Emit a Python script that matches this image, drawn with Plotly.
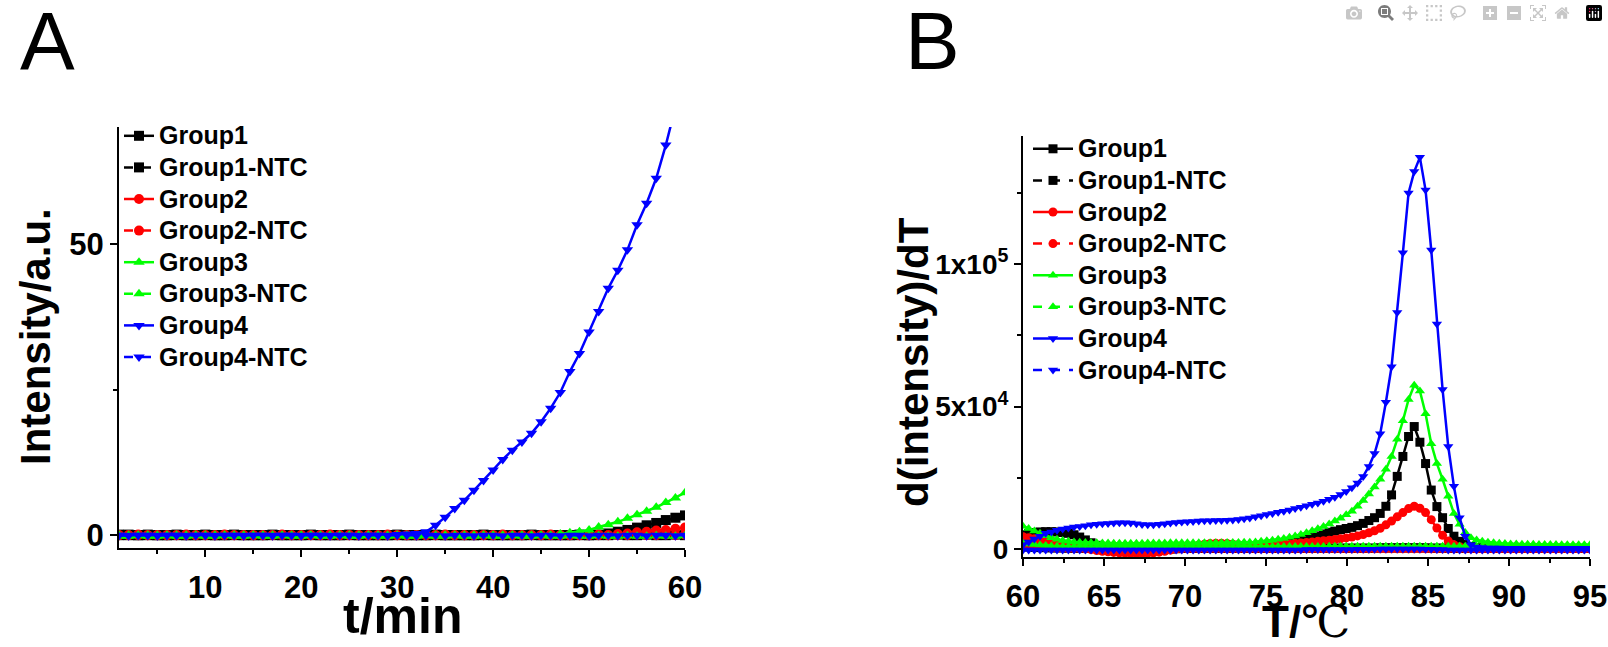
import numpy as np
import plotly.graph_objects as go

W, H = 1608, 647
FONT = 'Liberation Sans'

# ---- panel A: intensity vs time (t = 1..60 min) ----
t_min = list(range(1, 61))

g1_int = [0, 0, 0, 0, 0, 0, 0, 0, 0, 0,
          0, 0, 0, 0, 0, 0, 0, 0, 0, 0,
          0, 0, 0, 0, 0, 0, 0, 0, 0, 0,
          0, 0, 0, 0, 0, 0, 0, 0, 0, 0,
          0, 0, 0, 0, 0, 0, 0, 0, 0, 0,
          0.1, 0.3, 0.6, 0.9, 1.3, 1.7, 2.1, 2.6, 3.0, 3.4]
g1n_int = [0.1, 0.1, 0.0, 0.1, 0.0, 0.0, 0.1, 0.0, 0.0, 0.1,
           0.0, 0.0, 0.1, 0.0, 0.0, 0.0, 0.1, 0.0, 0.0, 0.0,
           0.1, 0.0, 0.0, 0.0, 0.1, 0.0, 0.0, 0.0, 0.0, 0.1,
           0.0, 0.0, 0.0, 0.1, 0.0, 0.0, 0.0, 0.0, 0.1, 0.0,
           0.0, 0.0, 0.0, 0.1, 0.0, 0.0, 0.0, 0.0, 0.1, 0.0,
           0.0, 0.0, 0.1, 0.0, 0.0, 0.1, 0.0, 0.0, 0.1, 0.0]
g2_int = [0, 0, 0, 0, 0, 0, 0, 0, 0, 0,
          0, 0, 0, 0, 0, 0, 0, 0, 0, 0,
          0, 0, 0, 0, 0, 0, 0, 0, 0, 0,
          0, 0, 0, 0, 0, 0, 0, 0, 0, 0,
          0, 0, 0, 0, 0, 0, 0, 0, 0, 0,
          0, 0, 0.2, 0.3, 0.5, 0.6, 0.8, 0.9, 1.1, 1.3]
g2n_int = [0.0, 0.0, 0.1, 0.0, 0.0, 0.0, 0.0, 0.1, 0.0, 0.0,
           0.0, 0.1, 0.0, 0.0, 0.0, 0.0, 0.0, 0.1, 0.0, 0.0,
           0.0, 0.0, 0.1, 0.0, 0.0, 0.0, 0.0, 0.0, 0.1, 0.0,
           0.0, 0.0, 0.0, 0.0, 0.1, 0.0, 0.0, 0.0, 0.0, 0.0,
           0.1, 0.0, 0.0, 0.0, 0.0, 0.1, 0.0, 0.0, 0.0, 0.0,
           0.1, 0.0, 0.0, 0.0, 0.1, 0.0, 0.0, 0.1, 0.0, 0.1]
g3_int = [0, 0, 0, 0, 0, 0, 0, 0, 0, 0,
          0, 0, 0, 0, 0, 0, 0, 0, 0, 0,
          0, 0, 0, 0, 0, 0, 0, 0, 0, 0,
          0, 0, 0, 0, 0, 0, 0, 0, 0, 0,
          0, 0, 0, 0, 0, 0, 0.2, 0.4, 0.6, 0.9,
          1.4, 1.8, 2.3, 2.9, 3.5, 4.1, 4.8, 5.6, 6.4, 7.3]
g3n_int = [-0.2, -0.2, -0.1, -0.2, -0.2, -0.1, -0.2, -0.2, -0.1, -0.2,
           -0.2, -0.1, -0.2, -0.2, -0.1, -0.2, -0.2, -0.1, -0.2, -0.2,
           -0.1, -0.2, -0.2, -0.1, -0.2, -0.2, -0.1, -0.2, -0.2, -0.1,
           -0.2, -0.2, -0.1, -0.2, -0.2, -0.1, -0.2, -0.2, -0.1, -0.2,
           -0.2, -0.1, -0.2, -0.2, -0.1, -0.2, -0.2, -0.1, -0.2, -0.2,
           -0.1, -0.2, -0.2, -0.1, -0.2, -0.2, -0.1, -0.2, -0.2, -0.1]
g4_int = [0, 0, 0, 0, 0, 0, 0, 0, 0, 0,
          0, 0, 0, 0, 0, 0, 0, 0, 0, 0,
          0, 0, 0, 0, 0, 0, 0, 0, 0, 0.1,
          0.2, 0.3, 0.6, 1.7, 3.1, 4.6, 6.0, 7.7, 9.4, 11.2,
          13.0, 14.6, 16.0, 17.5, 19.5, 21.8, 24.5, 28.1, 31.2, 34.9,
          38.4, 42.4, 45.5, 49.0, 53.3, 57.0, 61.3, 67.0, 73.5, 80.0]
g4n_int = [0.0, -0.1, 0.0, 0.0, -0.1, 0.0, 0.0, -0.1, 0.0, 0.0,
           -0.1, 0.0, 0.0, -0.1, 0.0, 0.0, -0.1, 0.0, 0.0, -0.1,
           0.0, 0.0, -0.1, 0.0, 0.0, -0.1, 0.0, 0.0, -0.1, 0.0,
           0.0, -0.1, 0.0, 0.0, -0.1, 0.0, 0.0, -0.1, 0.0, 0.0,
           -0.1, 0.0, 0.0, -0.1, 0.0, 0.0, -0.1, 0.0, 0.0, -0.1,
           0.0, 0.0, -0.1, 0.0, 0.0, -0.1, 0.0, 0.0, -0.1, 0.0]

# ---- panel B: d(intensity)/dT vs temperature, values in units of 1e3 ----
temp_c = np.round(np.linspace(60, 95, 101), 2)

g1_dt = [5.0, 5.5, 5.8, 6.0, 6.1, 6.1, 6.0, 5.8, 5.5, 5.0,
         4.2, 3.2, 2.2, 1.3, 0.6, 0.2, 0.0, -0.1, -0.2, -0.2,
         -0.3, -0.3, -0.3, -0.2, -0.2, -0.1, 0.0, 0.1, 0.2, 0.3,
         0.6, 0.9, 1.2, 1.4, 1.5, 1.5, 1.4, 1.3, 1.2, 1.1,
         1.1, 1.2, 1.3, 1.5, 1.7, 1.9, 2.0, 2.3, 2.6, 3.0,
         3.4, 4.0, 4.6, 5.3, 5.9, 6.3, 6.8, 7.2, 7.6, 8.2,
         9.0, 10.0, 11.0, 12.5, 15.0, 19.0, 25.5, 32.5, 39.5, 43.0,
         37.5, 30.0, 20.7, 14.9, 11.0, 7.2, 4.5, 2.7, 1.6, 0.9,
         0.5, 0.3, 0.3, 0.2, 0.2, 0.2, 0.2, 0.2, 0.2, 0.2,
         0.2, 0.2, 0.2, 0.2, 0.2, 0.2, 0.2, 0.2, 0.2, 0.2, 0.2]
g1n_dt = [0.8, 0.7, 0.6, 0.5, 0.5, 0.4, 0.4, 0.4, 0.3, 0.3,
          0.3, 0.3, 0.2, 0.2, 0.2, 0.2, 0.2, 0.2, 0.2, 0.2,
          0.2, 0.2, 0.2, 0.2, 0.2, 0.2, 0.2, 0.2, 0.2, 0.2,
          0.2, 0.2, 0.2, 0.2, 0.2, 0.2, 0.2, 0.2, 0.2, 0.2,
          0.2, 0.2, 0.2, 0.2, 0.2, 0.2, 0.3, 0.3, 0.3, 0.3,
          0.3, 0.3, 0.3, 0.3, 0.3, 0.3, 0.3, 0.3, 0.3, 0.3,
          0.3, 0.3, 0.3, 0.4, 0.4, 0.4, 0.4, 0.4, 0.4, 0.4,
          0.4, 0.4, 0.3, 0.3, 0.3, 0.3, 0.2, 0.2, 0.2, 0.2,
          0.2, 0.2, 0.2, 0.2, 0.2, 0.2, 0.2, 0.2, 0.2, 0.2,
          0.2, 0.2, 0.2, 0.2, 0.2, 0.2, 0.2, 0.2, 0.2, 0.2, 0.2]
g2_dt = [4.3, 4.0, 3.6, 3.2, 2.8, 2.5, 2.3, 2.0, 1.6, 1.1,
         0.6, 0.2, -0.2, -0.5, -0.8, -1.0, -1.2, -1.3, -1.4, -1.5,
         -1.5, -1.5, -1.4, -1.3, -1.1, -0.8, -0.4, 0.0, 0.4, 0.8,
         1.1, 1.4, 1.7, 1.9, 2.0, 2.0, 1.9, 1.7, 1.5, 1.3,
         1.2, 1.2, 1.3, 1.4, 1.5, 1.6, 1.7, 1.8, 2.0, 2.1,
         2.3, 2.5, 2.7, 2.9, 3.1, 3.3, 3.6, 3.9, 4.2, 4.6,
         5.1, 5.7, 6.4, 7.3, 8.5, 9.8, 11.3, 12.8, 14.2, 15.0,
         14.3, 12.8, 10.3, 7.4, 4.8, 2.8, 1.5, 0.8, 0.4, 0.2,
         0.1, 0.1, 0.1, 0.1, 0.1, 0.1, 0.1, 0.1, 0.1, 0.1,
         0.1, 0.1, 0.1, 0.1, 0.1, 0.1, 0.1, 0.1, 0.1, 0.1, 0.1]
g2n_dt = [1.0, 0.9, 0.8, 0.6, 0.5, 0.4, 0.3, 0.3, 0.2, 0.2,
          0.2, 0.1, 0.1, 0.1, 0.1, 0.1, 0.1, 0.1, 0.1, 0.1,
          0.1, 0.1, 0.1, 0.1, 0.1, 0.1, 0.1, 0.1, 0.1, 0.1,
          0.1, 0.1, 0.1, 0.1, 0.1, 0.1, 0.1, 0.1, 0.1, 0.1,
          0.1, 0.1, 0.1, 0.1, 0.1, 0.1, 0.1, 0.1, 0.1, 0.1,
          0.1, 0.1, 0.1, 0.1, 0.1, 0.1, 0.1, 0.1, 0.1, 0.1,
          0.1, 0.1, 0.1, 0.1, 0.1, 0.1, 0.1, 0.1, 0.1, 0.1,
          0.1, 0.1, 0.1, 0.1, 0.1, 0.1, 0.1, 0.1, 0.1, 0.1,
          0.1, 0.1, 0.1, 0.1, 0.1, 0.1, 0.1, 0.1, 0.1, 0.1,
          0.1, 0.1, 0.1, 0.1, 0.1, 0.1, 0.1, 0.1, 0.1, 0.1, 0.1]
g3_dt = [8.0, 7.2, 6.3, 5.5, 4.7, 4.0, 3.4, 3.0, 2.7, 2.5,
         2.4, 2.3, 2.2, 2.2, 2.1, 2.1, 2.0, 2.0, 2.0, 2.0,
         2.0, 2.0, 2.1, 2.1, 2.1, 2.1, 2.2, 2.2, 2.2, 2.2,
         2.2, 2.2, 2.2, 2.2, 2.2, 2.2, 2.3, 2.3, 2.3, 2.4,
         2.4, 2.5, 2.7, 2.9, 3.1, 3.4, 3.7, 4.1, 4.6, 5.1,
         5.7, 6.4, 7.1, 7.9, 8.8, 9.8, 10.8, 12.0, 13.3, 15.0,
         17.0, 19.3, 21.8, 24.5, 28.0, 32.5, 38.5, 45.0, 52.5, 57.5,
         55.5, 47.5, 37.0, 30.0, 24.5, 18.5, 12.5, 8.7, 5.8, 4.0,
         3.2, 2.7, 2.4, 2.2, 2.0, 1.9, 1.8, 1.8, 1.7, 1.7,
         1.7, 1.6, 1.6, 1.6, 1.6, 1.5, 1.5, 1.5, 1.5, 1.5, 1.5]
g3n_dt = [2.0, 1.8, 1.6, 1.4, 1.2, 1.1, 1.0, 1.0, 0.9, 0.9,
          0.9, 0.9, 0.9, 0.9, 0.9, 0.9, 0.9, 0.9, 0.9, 0.9,
          0.9, 0.9, 0.9, 0.9, 0.9, 0.9, 0.9, 0.9, 0.9, 0.9,
          0.9, 0.9, 0.9, 0.9, 0.9, 0.9, 0.9, 0.9, 0.9, 0.9,
          0.9, 0.9, 0.9, 0.9, 0.9, 0.9, 0.9, 0.9, 0.9, 0.9,
          0.9, 0.9, 0.9, 0.9, 1.0, 1.0, 1.0, 1.0, 1.0, 1.0,
          1.0, 1.0, 1.0, 1.0, 1.0, 1.0, 1.0, 1.0, 1.0, 1.0,
          1.0, 1.0, 1.0, 1.0, 1.0, 1.0, 1.0, 1.0, 1.0, 1.0,
          1.0, 1.0, 1.0, 1.0, 1.0, 1.0, 1.0, 1.0, 1.0, 1.0,
          1.0, 1.0, 1.0, 1.0, 1.0, 1.0, 1.0, 1.0, 1.0, 1.0, 1.0]
g4_dt = [1.5, 2.5, 3.5, 4.5, 5.5, 6.0, 6.6, 7.0, 7.4, 7.7,
         7.9, 8.2, 8.5, 8.7, 8.9, 9.0, 9.1, 9.2, 9.2, 9.1,
         8.9, 8.6, 8.5, 8.5, 8.7, 8.9, 9.1, 9.3, 9.5, 9.6,
         9.7, 9.8, 9.9, 9.9, 10.0, 10.0, 10.1, 10.2, 10.4, 10.6,
         10.9, 11.3, 11.7, 12.1, 12.5, 12.9, 13.3, 13.7, 14.2, 14.7,
         15.2, 15.7, 16.2, 16.8, 17.5, 18.2, 19.1, 20.2, 21.5, 23.2,
         25.5, 29.0, 33.5, 40.5, 51.5, 64.0, 83.0, 104.0, 125.0, 132.5,
         137.5, 126.0, 105.0, 79.0, 56.0, 36.0, 22.0, 11.0, 4.5, 1.5,
         0.7, 0.5, 0.4, 0.4, 0.4, 0.3, 0.3, 0.3, 0.3, 0.3,
         0.3, 0.3, 0.3, 0.3, 0.3, 0.3, 0.3, 0.3, 0.3, 0.3, 0.3]
g4n_dt = [-0.3, -0.3, -0.3, -0.3, -0.3, -0.3, -0.3, -0.3, -0.3, -0.3,
          -0.3, -0.3, -0.3, -0.3, -0.3, -0.3, -0.3, -0.3, -0.3, -0.3,
          -0.3, -0.3, -0.3, -0.3, -0.3, -0.3, -0.3, -0.3, -0.3, -0.3,
          -0.3, -0.3, -0.3, -0.3, -0.3, -0.3, -0.3, -0.3, -0.3, -0.3,
          -0.3, -0.3, -0.3, -0.3, -0.3, -0.3, -0.3, -0.3, -0.3, -0.3,
          -0.2, -0.2, -0.2, -0.2, -0.2, -0.2, -0.2, -0.2, -0.2, -0.1,
          -0.1, -0.1, -0.1, 0.0, 0.0, 0.0, 0.0, 0.0, 0.0, 0.0,
          0.0, -0.1, -0.1, -0.2, -0.2, -0.3, -0.3, -0.3, -0.3, -0.3,
          -0.3, -0.3, -0.3, -0.3, -0.3, -0.3, -0.3, -0.3, -0.3, -0.3,
          -0.3, -0.3, -0.3, -0.3, -0.3, -0.3, -0.3, -0.3, -0.3, -0.3, -0.3]

names = ['Group1', 'Group1-NTC', 'Group2', 'Group2-NTC',
         'Group3', 'Group3-NTC', 'Group4', 'Group4-NTC']
colors = ['#000000', '#000000', '#ff0000', '#ff0000',
          '#00ff00', '#00ff00', '#0000ff', '#0000ff']
symbols = ['square', 'square', 'circle', 'circle',
           'triangle-up', 'triangle-up', 'triangle-down', 'triangle-down']
dashes = ['solid', 'dash'] * 4

series_a = [g1_int, g1n_int, g2_int, g2n_int, g3_int, g3n_int, g4_int, g4n_int]
series_b = [g1_dt, g1n_dt, g2_dt, g2n_dt, g3_dt, g3n_dt, g4_dt, g4n_dt]


# positions below are screen pixels of the original picture
def px(x):
    return x / W


def py(y):
    return 1 - y / H


def legend_name(name):
    # larger glyphs than the legend's row height font, as in the original figure
    return "<span style='font-size:25px'>%s</span>" % name


fig = go.Figure()
for i, name in enumerate(names):
    fig.add_trace(go.Scatter(x=t_min, y=series_a[i], name=legend_name(name), mode='lines+markers',
                             line=dict(color=colors[i], width=2.5, dash=dashes[i]),
                             marker=dict(symbol=symbols[i], size=10, color=colors[i]),
                             xaxis='x', yaxis='y', legend='legend'))
for i, name in enumerate(names):
    fig.add_trace(go.Scatter(x=temp_c, y=series_b[i], name=legend_name(name), mode='lines+markers',
                             line=dict(color=colors[i], width=2.5, dash=dashes[i]),
                             marker=dict(symbol=symbols[i], size=9, color=colors[i]),
                             xaxis='x2', yaxis='y2', legend='legend2'))

axis_common = dict(showline=True, linecolor='black', linewidth=2, mirror=False,
                   ticks='outside', ticklen=7, tickwidth=2, tickcolor='black',
                   showgrid=False, zeroline=False, automargin=False,
                   tickfont=dict(family=FONT, size=31, color='black', weight='bold'))
minor_common = dict(ticks='outside', ticklen=4, tickwidth=2, tickcolor='black')

legend_common = dict(xanchor='left', yanchor='top', bgcolor='rgba(0,0,0,0)',
                     font=dict(family=FONT, size=22, color='black', weight='bold'),
                     tracegroupgap=0)

bold = dict(family=FONT, size=42, color='black', weight='bold')
big = dict(family=FONT, size=82, color='black')


def label(text, x, y, font, angle=0, yanchor='middle'):
    return dict(text=text, x=px(x), y=py(y), xref='paper', yref='paper',
                xanchor='center', yanchor=yanchor, showarrow=False,
                textangle=angle, font=font)


fig.update_layout(
    width=W, height=H,
    margin=dict(l=0, r=0, t=0, b=0, autoexpand=False),
    paper_bgcolor='white', plot_bgcolor='white',
    xaxis=dict(axis_common, domain=[px(119), px(685)], range=[1, 60], anchor='y',
               tickvals=[10, 20, 30, 40, 50, 60], ticklabelstandoff=4,
               minor=dict(minor_common, tickvals=[5, 15, 25, 35, 45, 55])),
    yaxis=dict(axis_common, domain=[py(548), py(127)], range=[-2.2, 70.1], anchor='x',
               tickvals=[0, 50],
               minor=dict(minor_common, tickvals=[25])),
    xaxis2=dict(axis_common, domain=[px(1023), px(1590)], range=[60, 95], anchor='y2',
                tickvals=[60, 65, 70, 75, 80, 85, 90, 95], ticklabelstandoff=4,
                minor=dict(minor_common, tickvals=[62.5, 67.5, 72.5, 77.5, 82.5, 87.5, 92.5])),
    yaxis2=dict(axis_common, domain=[py(557), py(136)], range=[-2.8, 145], anchor='x2',
                tickvals=[0, 50, 100],
                ticktext=['0', '5x10<sup>4</sup>', '1x10<sup>5</sup>'],
                tickfont=dict(family=FONT, size=28, color='black', weight='bold'),
                minor=dict(minor_common, tickvals=[25, 75, 125])),
    legend=dict(legend_common, x=px(119), y=py(115), itemwidth=30),
    legend2=dict(legend_common, x=px(1028), y=py(128), itemwidth=40),
    annotations=[
        label('A', 47, 40, big),
        label('B', 932, 40, big),
        label('Intensity/a.u.', 36, 337, bold, -90),
        label('t/min', 402, 646, dict(bold, size=50), yanchor='bottom'),
        label('d(intensity)/dT', 913, 362, bold, -90),
        label("T/<span style='font-family:DejaVu Serif;font-weight:normal'>℃</span>",
              1306, 649, dict(bold, size=44), yanchor='bottom'),
    ],
)

# drop the page's default body margin so the figure fills the window exactly
fig.write_html("out.html",
               post_script="document.body.style.margin='0';document.body.style.overflow='hidden';")
